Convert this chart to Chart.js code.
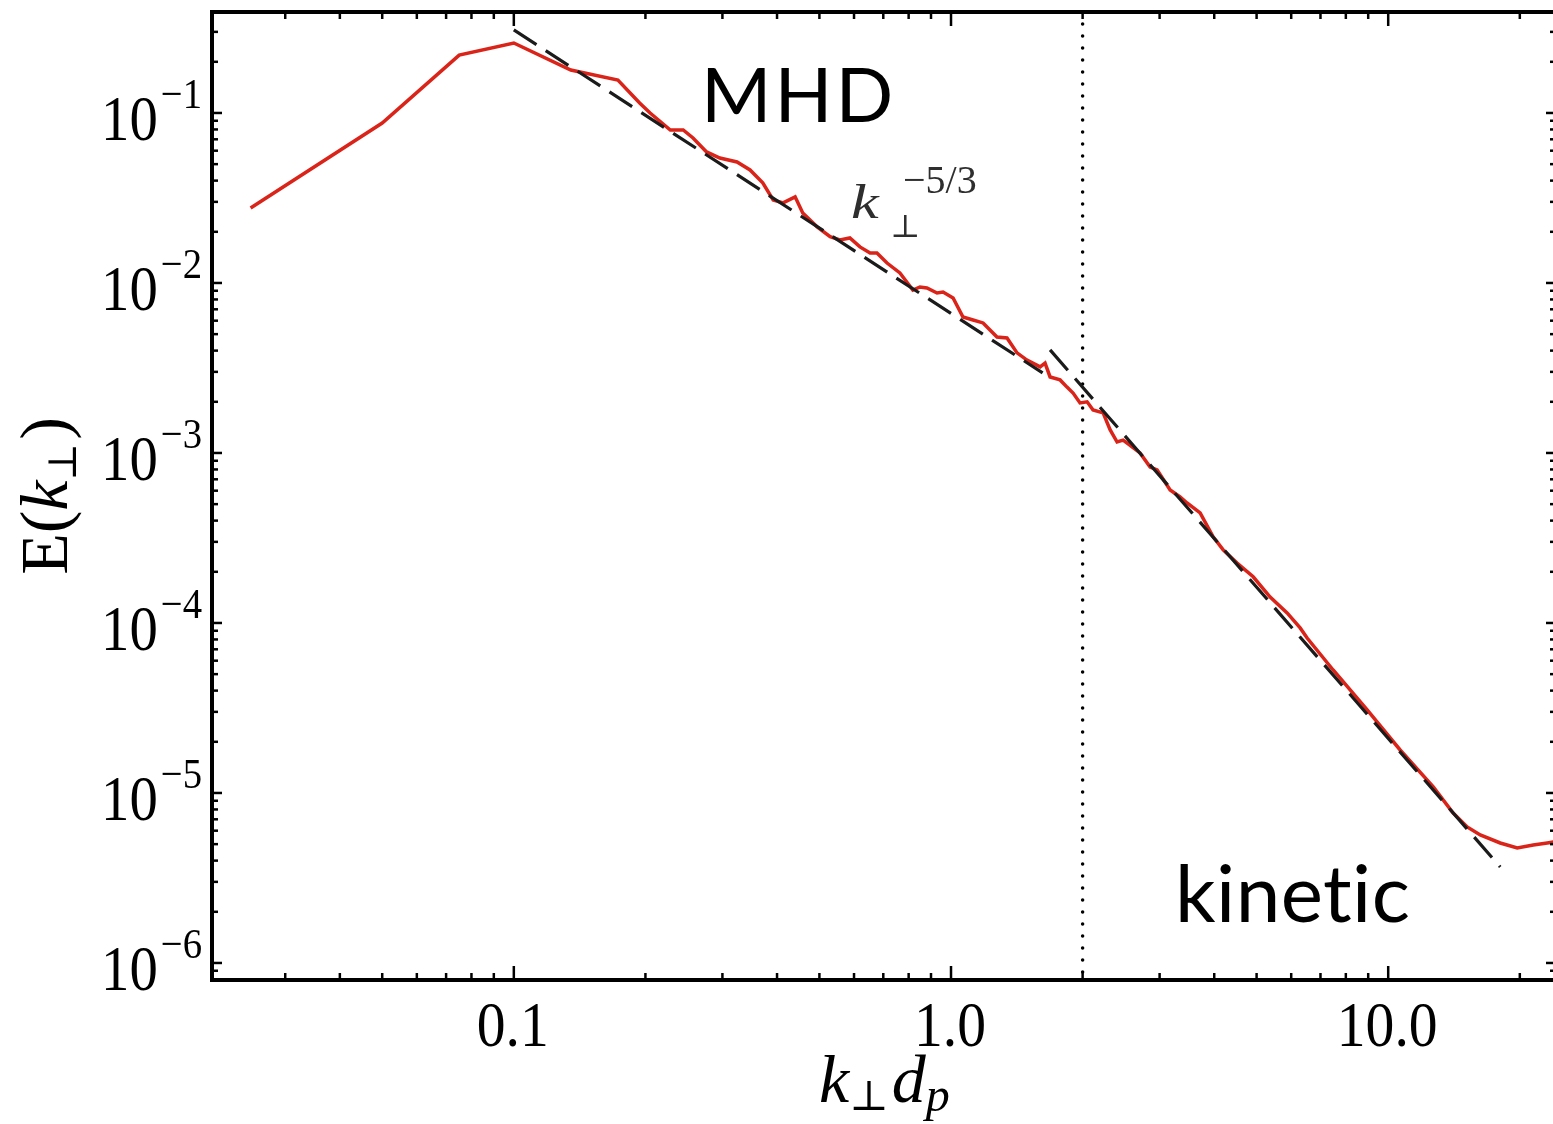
<!DOCTYPE html>
<html>
<head>
<meta charset="utf-8">
<title>Perpendicular energy spectrum</title>
<script src="https://cdn.jsdelivr.net/npm/chart.js@4.4.1/dist/chart.umd.min.js"></script>
<style>
  html, body { margin: 0; padding: 0; background: #fff; overflow: hidden; }
  #spectrum { display: block; }
</style>
</head>
<body>
<canvas id="spectrum" width="1560" height="1124"></canvas>
<script>
// spectrum, k_perp d_p against E(k_perp)
const kPerp = [
    0.025, 0.05, 0.075, 0.1, 0.135, 0.173, 0.194, 0.205, 0.228, 0.244,
    0.257, 0.276, 0.296, 0.324, 0.347, 0.371, 0.392, 0.413, 0.44, 0.458,
    0.494, 0.529, 0.557, 0.587, 0.619, 0.653, 0.677, 0.714, 0.764, 0.793,
    0.818, 0.849, 0.881, 0.929, 0.959, 1.011, 1.065, 1.123, 1.184, 1.274,
    1.343, 1.416, 1.492, 1.599, 1.641, 1.685, 1.776, 1.842, 1.902, 1.973,
    2.048, 2.113, 2.228, 2.311, 2.398, 2.475, 2.568, 2.706, 2.854, 2.961,
    3.171, 3.342, 3.467, 3.714, 3.977, 4.193, 4.512, 4.911, 5.37, 5.872,
    6.289, 6.525, 7.483, 8.953, 10.65, 12.68, 14.08, 15.16, 16.24, 18.04,
    19.73, 21.47, 23.11, 23.86,
];
const energy = [
    0.0276, 0.0873, 0.219, 0.258, 0.179, 0.156, 0.1145, 0.1, 0.0794, 0.0794,
    0.0713, 0.059, 0.0543, 0.0515, 0.0462, 0.0388, 0.0308, 0.0296, 0.0321, 0.0258,
    0.0214, 0.0187, 0.0179, 0.0184, 0.0163, 0.015, 0.015, 0.0131, 0.01145, 0.0101,
    0.00909, 0.00947, 0.00935, 0.00873, 0.00885, 0.00816, 0.00631, 0.00606, 0.00582, 0.00481,
    0.00475, 0.00388, 0.00352, 0.00321, 0.00338, 0.0028, 0.00269, 0.00244, 0.00225, 0.00197,
    0.002, 0.00179, 0.00172, 0.00137, 0.00116, 0.00119, 0.00111, 0.001, 0.000827, 0.000794,
    0.000606, 0.000551, 0.000508, 0.000444, 0.000321, 0.000269, 0.000225, 0.000187, 0.000142, 0.0001145,
    0.0000935, 0.0000816, 0.0000529, 0.0000308, 0.0000179, 0.00001085, 0.00000762, 0.00000631, 0.00000566, 0.00000508,
    0.00000475, 0.00000494, 0.00000508, 0.00000515,
];

// power-law guides: k^-5/3 in the MHD range, steeper below d_p
const mhdFitK = [0.1, 1.62];
const mhdFitE = [0.308, 0.00296];
const kineticFitK = [1.685, 18.04];
const kineticFitE = [0.00404, 0.00000367];

// MHD / kinetic boundary
const breakK = 2.0;

const xRange = [0.0204, 24.2];
const yRange = [7.94e-7, 0.3926];

const xTickValues = [0.1, 1, 10];
const xTickLabels = ['0.1', '1.0', '10.0'];
const yTickExponents = [-1, -2, -3, -4, -5, -6];

const SERIF = "'Liberation Serif', 'DejaVu Serif', serif";
const SANS = "Lato, 'Open Sans', sans-serif";
const NARROW = 0.9; // serif labels are set a little condensed

const toPoints = (xs, ys) => xs.map((x, i) => ({ x: x, y: ys[i] }));

// a row of text pieces, each with its own font, baseline shift and squeeze
function runsWidth(ctx, runs, sx) {
    let w = 0;
    runs.forEach((r) => {
        ctx.font = r.font;
        w += (ctx.measureText(r.t).width + (r.gap || 0)) * sx;
    });
    return w;
}
function drawRuns(ctx, x, y, runs, sx) {
    sx = sx || 1;
    runs.forEach((r) => {
        const s = r.sx || sx;
        ctx.font = r.font;
        ctx.save();
        ctx.translate(x, y + (r.dy || 0));
        ctx.scale(s, 1);
        ctx.fillText(r.t, 0, 0);
        ctx.restore();
        x += (ctx.measureText(r.t).width + (r.gap || 0)) * s;
    });
    return x;
}

const framePlugin = {
    id: 'frame',
    afterDraw(chart) {
        const { ctx, chartArea: a, scales } = chart;
        const xs = scales.x;
        const ys = scales.y;
        ctx.save();
        ctx.strokeStyle = '#000';
        ctx.fillStyle = '#000';
        ctx.lineCap = 'butt';
        ctx.textAlign = 'left';
        ctx.textBaseline = 'alphabetic';

        const seg = (x1, y1, x2, y2) => {
            ctx.beginPath();
            ctx.moveTo(x1, y1);
            ctx.lineTo(x2, y2);
            ctx.stroke();
        };

        // inward ticks on all four sides
        ctx.lineWidth = 2.5;
        for (let e = -2; e <= 1; e++) {
            for (let m = 1; m <= 9; m++) {
                const v = m * Math.pow(10, e);
                if (v < xRange[0] || v > xRange[1]) continue;
                const px = xs.getPixelForValue(v);
                const len = m === 1 ? 14 : 7;
                seg(px, a.bottom, px, a.bottom - len);
                seg(px, a.top, px, a.top + len);
            }
        }
        for (let e = -7; e <= -1; e++) {
            for (let m = 1; m <= 9; m++) {
                const v = m * Math.pow(10, e);
                if (v < yRange[0] || v > yRange[1]) continue;
                const py = ys.getPixelForValue(v);
                const len = m === 1 ? 10 : 6;
                seg(a.left, py, a.left + len, py);
                seg(a.right, py, a.right - len, py);
            }
        }

        // box
        ctx.lineWidth = 4;
        ctx.strokeRect(a.left, a.top, a.right - a.left, a.bottom - a.top);

        // x tick labels
        xTickValues.forEach((v, i) => {
            const run = [{ t: xTickLabels[i], font: '64px ' + SERIF }];
            const w = runsWidth(ctx, run, NARROW);
            drawRuns(ctx, xs.getPixelForValue(v) - w / 2 - 1, a.bottom + 66, run, NARROW);
        });

        // y tick labels, 10 with a raised exponent
        yTickExponents.forEach((e) => {
            const py = ys.getPixelForValue(Math.pow(10, e));
            const sup = [{ t: '\u2212' + (-e), font: '43px ' + SERIF }];
            const base = [{ t: '10', font: '63px ' + SERIF }];
            const supX = a.left - 10 - runsWidth(ctx, sup, NARROW);
            drawRuns(ctx, supX, py - 5, sup, NARROW);
            drawRuns(ctx, supX - runsWidth(ctx, base, NARROW) - 3, py + 27, base, NARROW);
        });

        // axis titles
        drawRuns(ctx, 819, a.bottom + 122, [
            { t: 'k', font: 'italic 68px ' + SERIF },
            { t: '\u22A5', font: '42px ' + SERIF, dy: 8, gap: 3 },
            { t: 'd', font: 'italic 68px ' + SERIF },
            { t: 'p', font: 'italic 48px ' + SERIF, dy: 9 },
        ]);

        const yTitle = [
            { t: 'E', font: '68px ' + SERIF },
            { t: '(', font: '68px ' + SERIF },
            { t: 'k', font: 'italic 68px ' + SERIF },
            { t: '\u22A5', font: '40px ' + SERIF, dy: 9, gap: 3 },
            { t: ')', font: '68px ' + SERIF },
        ];
        ctx.save();
        ctx.translate(67, (a.top + a.bottom) / 2);
        ctx.rotate(-Math.PI / 2);
        drawRuns(ctx, -runsWidth(ctx, yTitle, 1) / 2, 0, yTitle);
        ctx.restore();

        // slope label
        ctx.fillStyle = '#2e2e2e';
        drawRuns(ctx, 851, 218, [{ t: 'k', font: 'italic 48px ' + SERIF, sx: 1.3 }]);
        drawRuns(ctx, 890, 237, [{ t: '\u22A5', font: '32px ' + SERIF }]);
        drawRuns(ctx, 903, 193, [{ t: '\u22125/3', font: '40px ' + SERIF }]);

        // regime names
        ctx.fillStyle = '#000';
        ctx.letterSpacing = '3px';
        ctx.font = '76px ' + SANS;
        ctx.fillText('MHD', 701, 122);
        ctx.letterSpacing = '0.4px';
        ctx.font = '80px ' + SANS;
        ctx.fillText('kinetic', 1175, 922);
        ctx.letterSpacing = '0px';

        ctx.restore();
    },
};

new Chart(document.getElementById('spectrum'), {
    type: 'line',
    data: {
        datasets: [
            {
                label: 'k^-5/3',
                data: toPoints(mhdFitK, mhdFitE),
                borderColor: '#1b1b1b',
                borderWidth: 3.2,
                borderDash: [27, 11],
                pointRadius: 0,
            },
            {
                label: 'kinetic fit',
                data: toPoints(kineticFitK, kineticFitE),
                borderColor: '#1b1b1b',
                borderWidth: 3.2,
                borderDash: [27, 11],
                pointRadius: 0,
            },
            {
                label: 'break',
                data: [
                    { x: breakK, y: yRange[1] },
                    { x: breakK, y: yRange[0] },
                ],
                borderColor: '#000',
                borderWidth: 3.5,
                borderDash: [0, 12],
                borderCapStyle: 'round',
                pointRadius: 0,
            },
            {
                label: 'E(k)',
                data: toPoints(kPerp, energy),
                borderColor: '#da2419',
                borderWidth: 3.5,
                pointRadius: 0,
                tension: 0,
            },
        ],
    },
    options: {
        responsive: false,
        animation: false,
        devicePixelRatio: 1,
        layout: { padding: { left: 212, right: 4, top: 12, bottom: 144 } },
        plugins: {
            legend: { display: false },
            tooltip: { enabled: false },
        },
        scales: {
            x: { type: 'logarithmic', min: xRange[0], max: xRange[1], display: false },
            y: { type: 'logarithmic', min: yRange[0], max: yRange[1], display: false },
        },
    },
    plugins: [framePlugin],
});
</script>
</body>
</html>
